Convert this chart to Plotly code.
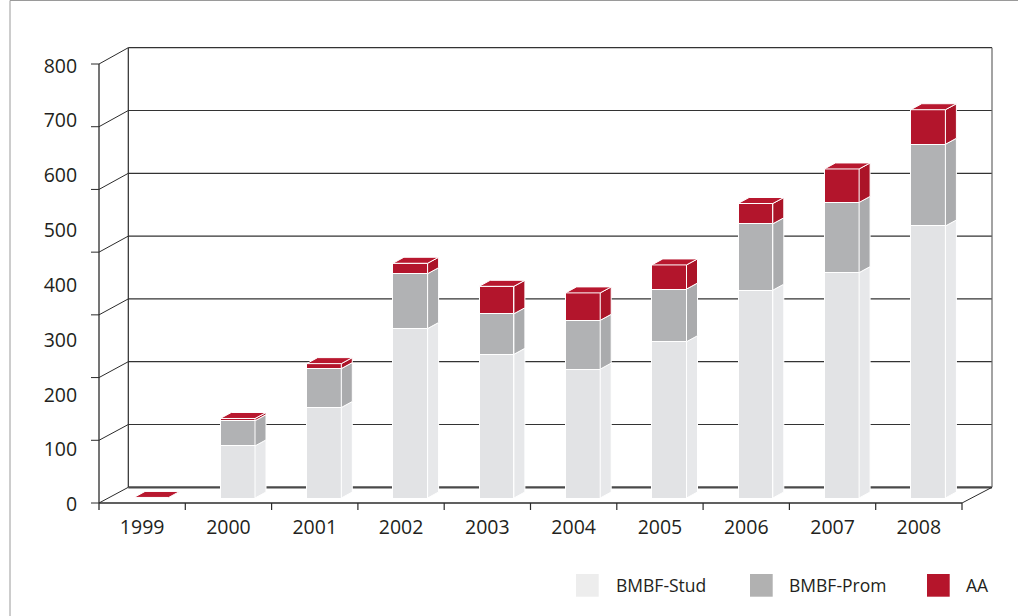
import plotly.graph_objects as go

# ---------------- data ----------------
years = ["1999", "2000", "2001", "2002", "2003", "2004", "2005", "2006", "2007", "2008"]
bmbf_stud = [0, 95, 165, 309, 262, 235, 285, 379, 411, 496]
bmbf_prom = [0, 46, 71, 100, 74, 89, 96, 121, 128, 149]
aa = [1, 4, 9, 19, 50, 50, 44, 37, 61, 63]
y_labels = [0, 100, 200, 300, 400, 500, 600, 700, 800]
series_names = ["BMBF-Stud", "BMBF-Prom", "AA"]

front_colors = ["#E2E3E5", "#B1B2B4", "#B3152C"]
side_colors = ["#E7E8EA", "#AAABAD", "#AB1428"]
legend_colors = ["#EDEDED", "#B1B1B1", "#B5152B"]
TEXT = "#231F20"
LINE = "#2b2b2b"

# ---------------- layout geometry (pixels) ----------------
W, H = 1018, 616
X0, X1 = 99, 992          # plot area left / right
Y0, Y1 = 44, 506          # plot area top / bottom
CAT = 86.3                # px per category
S = 0.5484                # px per value unit
Y_BAR0 = 498              # pixel of bar baseline (front face)
Y_LAB0 = 504.5            # pixel of label "0"
BAR_LEFT = 35.0           # front face left offset inside category (px)
BAR_W = 34.7              # front face width (px)
DEPTH_X, DEPTH_Y = 11.0, 6.0   # bar depth (px)
N_CAT = len(years)

BACK_X = 128.3
GRID_TOP, GRID_BOT = 47.7, 487.3
FRONT_TOP, FRONT_BOT = 64.0, 503.0
N_GRID = 8
FRONT_RIGHT = X0 + CAT * N_CAT


def pxp(x):
    return (x - X0) / (X1 - X0)


def pyp(y):
    return (Y1 - y) / (Y1 - Y0)


def seg(x0, y0, x1, y1, color=LINE, width=1.0, layer="below"):
    return dict(type="line", xref="paper", yref="paper",
                x0=pxp(x0), y0=pyp(y0), x1=pxp(x1), y1=pyp(y1),
                line=dict(color=color, width=width), layer=layer)


# unit conversions
bl = BAR_LEFT / CAT
bw = BAR_W / CAT
dxu = DEPTH_X / CAT
dyu = DEPTH_Y / S

fig = go.Figure()

series = [bmbf_stud, bmbf_prom, aa]
xs_center = [i + bl + bw / 2 for i in range(N_CAT)]

# front faces
for name, vals, col in zip(series_names, series, front_colors):
    fig.add_trace(go.Bar(
        x=xs_center, y=vals, width=bw, name=name,
        marker=dict(color=col, line=dict(color="white", width=1)),
        showlegend=False, hoverinfo="skip"))

# side faces
cum = [0.0] * N_CAT
for name, vals, col in zip(series_names, series, side_colors):
    px, py = [], []
    for i, v in enumerate(vals):
        if v <= 0:
            continue
        xr = i + bl + bw
        b, t = cum[i], cum[i] + v
        px += [xr, xr + dxu, xr + dxu, xr, xr, None]
        py += [b, b + dyu, t + dyu, t, b, None]
    for i, v in enumerate(vals):
        cum[i] += v
    fig.add_trace(go.Scatter(
        x=px, y=py, mode="lines", fill="toself", fillcolor=col,
        line=dict(color="white", width=1), showlegend=False, hoverinfo="skip"))

# top faces (colour of topmost segment)
tx, ty = [], []
for i in range(N_CAT):
    top = cum[i]
    xl = i + bl
    xr = xl + bw
    tx += [xl, xl + dxu, xr + dxu, xr, xl, None]
    ty += [top, top + dyu, top + dyu, top, top, None]
fig.add_trace(go.Scatter(
    x=tx, y=ty, mode="lines", fill="toself", fillcolor="#B8182F",
    line=dict(color="white", width=1), showlegend=False, hoverinfo="skip"))

# ---------------- frame / walls ----------------
shapes = []
grid_step = (GRID_BOT - GRID_TOP) / (N_GRID - 1)
front_step = (FRONT_BOT - FRONT_TOP) / (N_GRID - 1)
for k in range(N_GRID):
    gy = GRID_BOT - k * grid_step
    fy = FRONT_BOT - k * front_step
    shapes.append(seg(BACK_X, gy, X1, gy, color="#333333" if k else "#4a4a4a",
                      width=1.2 if k else 2.2))
    shapes.append(seg(X0, fy, BACK_X, gy, width=1))
    shapes.append(seg(X0 - 8, fy, X0, fy, width=1))
shapes.append(seg(BACK_X, GRID_TOP, BACK_X, GRID_BOT, width=1.2))
shapes.append(seg(X1, GRID_TOP, X1, GRID_BOT, color="#666666", width=1.2))
shapes.append(seg(X0, FRONT_TOP, X0, FRONT_BOT + 7, width=1.3))
shapes.append(seg(X0, FRONT_BOT, FRONT_RIGHT, FRONT_BOT, width=1.6))
shapes.append(seg(FRONT_RIGHT, FRONT_BOT, X1, GRID_BOT, width=1))
for k in range(1, N_CAT + 1):
    xk = X0 + k * CAT
    shapes.append(seg(xk, FRONT_BOT, xk, FRONT_BOT + 7, width=1.2))

# outer frame (left / top)
shapes.append(seg(10, 0.5, 10, H, color="#9a9a9a", width=1, layer="above"))
shapes.append(seg(10, 0.5, W, 0.5, color="#9a9a9a", width=1, layer="above"))

# ---------------- legend (manual) ----------------
annotations = []
leg_sq_x = [576, 750, 927]
leg_txt_x = [614, 787, 964]
LEG_Y0, LEG_Y1 = 574, 596.7
for name, col, sx, tx_ in zip(series_names, legend_colors, leg_sq_x, leg_txt_x):
    shapes.append(dict(type="rect", xref="paper", yref="paper",
                       x0=pxp(sx), x1=pxp(sx + 22.7), y0=pyp(LEG_Y1), y1=pyp(LEG_Y0),
                       fillcolor=col, line=dict(width=0), layer="above"))
    annotations.append(dict(xref="paper", yref="paper", x=pxp(tx_), y=pyp((LEG_Y0 + LEG_Y1) / 2),
                            text=name, showarrow=False, xanchor="left", yanchor="middle",
                            font=dict(family="Open Sans", size=17.5, color=TEXT)))

label_shift = (Y_BAR0 - Y_LAB0) / S

fig.update_layout(
    width=W, height=H, autosize=False,
    margin=dict(l=X0, r=W - X1, t=Y0, b=H - Y1, pad=0),
    paper_bgcolor="white", plot_bgcolor="white",
    barmode="stack", bargap=0,
    shapes=shapes, annotations=annotations,
    font=dict(family="Open Sans", color=TEXT),
    xaxis=dict(range=[0, (X1 - X0) / CAT], tickvals=[i + 0.5 for i in range(N_CAT)],
               ticktext=years, ticks="outside", ticklen=4, tickcolor="rgba(0,0,0,0)",
               showgrid=False, zeroline=False, showline=False, fixedrange=True,
               tickfont=dict(family="Open Sans", size=19.5, color=TEXT)),
    yaxis=dict(range=[(Y_BAR0 - Y1) / S, (Y_BAR0 - Y0) / S],
               tickvals=[v + label_shift for v in y_labels], ticktext=[str(v) for v in y_labels],
               ticks="outside", ticklen=17, tickcolor="rgba(0,0,0,0)",
               showgrid=False, zeroline=False, showline=False, fixedrange=True,
               tickfont=dict(family="Open Sans", size=19.5, color=TEXT)),
)

fig.write_html("out.html", post_script="document.body.style.margin='0px';",
               config={"displayModeBar": False, "staticPlot": True})
